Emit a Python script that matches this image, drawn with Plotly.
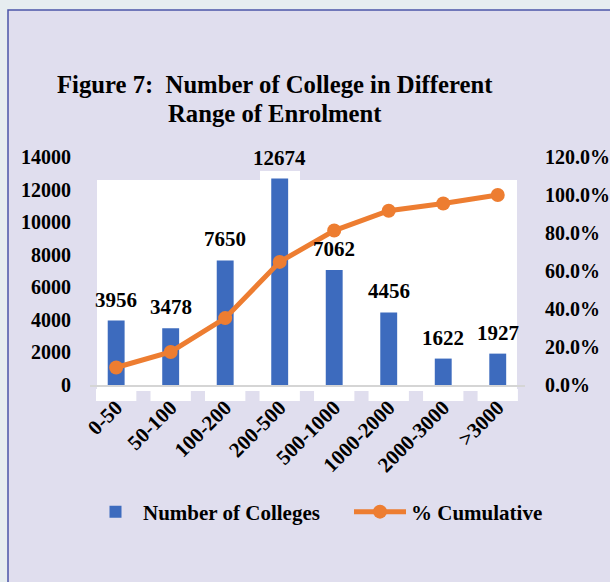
import plotly.graph_objects as go

categories = ["0-50", "50-100", "100-200", "200-500", "500-1000", "1000-2000", "2000-3000", ">3000"]
colleges = [3956, 3478, 7650, 12674, 7062, 4456, 1622, 1927]
cumulative_pct = [9.2, 17.4, 35.2, 64.8, 81.3, 91.7, 95.5, 100.0]
left_ticks = [0, 2000, 4000, 6000, 8000, 10000, 12000, 14000]
right_ticks = [0, 20, 40, 60, 80, 100, 120]
right_tick_text = [f"{v:.1f}%" for v in right_ticks]

FONT = "Liberation Serif, 'Times New Roman', Times, serif"
W, H = 610, 582
ML, MR, MT, MB = 90, 85, 157, 197
PW, PH = W - ML - MR, H - MT - MB

def px_x(px):
    return (px - ML) / PW

def px_y(py):
    return (H - MB - py) / PH

legend_font = dict(family=FONT, size=21, color="black", weight="bold")

fig = go.Figure()
fig.add_trace(go.Bar(
    x=categories, y=colleges, name="Number of Colleges",
    marker=dict(color="#3D6BBE", line=dict(width=0)), width=0.31,
    legend="legend",
))
fig.add_trace(go.Scatter(
    x=categories, y=cumulative_pct, name="% Cumulative", yaxis="y2",
    mode="lines+markers",
    line=dict(color="#ED7D31", width=5),
    marker=dict(color="#ED7D31", size=14),
    legend="legend2",
))

annotations = []
for c, v in zip(categories, colleges):
    annotations.append(dict(
        x=c, y=v, xref="x", yref="y", text=str(v), showarrow=False,
        yanchor="bottom", yshift=7,
        font=dict(family=FONT, size=21, color="black", weight="bold"),
    ))
annotations.append(dict(
    x=px_x(274.5), y=px_y(85), xref="paper", yref="paper", showarrow=False,
    text="Figure 7:&nbsp; Number of College in Different", xanchor="center", yanchor="middle",
    font=dict(family=FONT, size=24.7, color="black", weight="bold"),
))
annotations.append(dict(
    x=px_x(275), y=px_y(113), xref="paper", yref="paper", showarrow=False,
    text="Range of Enrolment", xanchor="center", yanchor="middle",
    font=dict(family=FONT, size=24.7, color="black", weight="bold"),
))

shapes = [
    dict(type="rect", xref="paper", yref="paper", layer="below",
         x0=px_x(8), x1=px_x(640), y0=px_y(620), y1=px_y(10),
         fillcolor="#E0DEEE", line=dict(color="#4B56A8", width=1.5)),
    dict(type="rect", xref="paper", yref="paper", layer="below",
         x0=px_x(97), x1=px_x(517), y0=px_y(391), y1=px_y(180),
         fillcolor="white", line=dict(width=0)),
    dict(type="rect", xref="paper", yref="paper", layer="below",
         x0=px_x(260), x1=px_x(300), y0=px_y(182), y1=px_y(171),
         fillcolor="white", line=dict(width=0)),
]
for i in range(len(categories)):
    shapes.append(dict(type="rect", xref="x", yref="paper", layer="below",
                       x0=i - 0.37, x1=i + 0.37, y0=px_y(401), y1=px_y(389),
                       fillcolor="white", line=dict(width=0)))

tickfont = dict(family=FONT, size=20, color="black", weight="bold")

fig.update_layout(
    width=W, height=H, autosize=False,
    margin=dict(l=ML, r=MR, t=MT, b=MB, pad=0, autoexpand=False),
    paper_bgcolor="#E6EDF0",
    plot_bgcolor="rgba(0,0,0,0)",
    showlegend=True,
    legend=dict(
        orientation="h", x=px_x(88), y=px_y(512), xanchor="left", yanchor="middle",
        font=legend_font, bgcolor="rgba(0,0,0,0)", itemwidth=45,
    ),
    legend2=dict(
        orientation="h", x=px_x(349), y=px_y(512), xanchor="left", yanchor="middle",
        font=legend_font, bgcolor="rgba(0,0,0,0)", itemwidth=52,
    ),
    xaxis=dict(
        range=[-0.48, 7.5], showgrid=False, zeroline=False, automargin=False,
        showline=True, linecolor="#D5D5D5", linewidth=2,
        tickangle=-45, ticks="",
        tickfont=dict(family=FONT, size=21, color="black", weight="bold"),
    ),
    yaxis=dict(
        range=[0, 14000], tickvals=left_ticks, tickformat="d", automargin=False,
        showgrid=False, zeroline=False, showline=False, ticks="",
        tickfont=tickfont, ticklabelstandoff=18,
    ),
    yaxis2=dict(
        range=[0, 120], tickvals=right_ticks, ticktext=right_tick_text,
        overlaying="y", side="right", automargin=False,
        showgrid=False, zeroline=False, showline=False, ticks="",
        tickfont=tickfont, ticklabelstandoff=19,
    ),
    annotations=annotations,
    shapes=shapes,
    bargap=0.6,
)

fig.write_html(
    "out.html",
    config={"displayModeBar": False},
    post_script="document.body.style.margin='0';document.body.style.background='#E6EDF0';",
)
